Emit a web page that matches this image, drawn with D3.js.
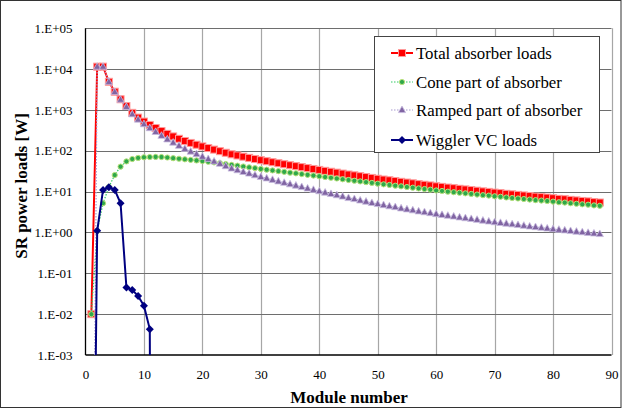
<!DOCTYPE html>
<html><head><meta charset="utf-8">
<script src="https://cdn.jsdelivr.net/npm/d3@7"></script>
<style>body{margin:0;background:#fff}svg{display:block}text{font-family:"Liberation Serif","Times New Roman",serif;fill:#000}</style>
</head><body>
<script>
// Module numbers 1..88
const modules = d3.range(1, 89);
const totalLoads = [0.01,11500,11500,4900,2800,1830,1250,850,650,520,430,362,305,260,225,197,174,156,141,128,117,107,
97.9,89.6,82.2,76.9,71.8,67.2,63.0,59.0,55.7,52.6,49.7,47.0,44.4,42.2,39.9,37.8,35.9,34.1,32.3,30.7,29.2,27.7,26.3,25.1,23.9,22.8,21.7,20.7,
19.8,19.0,18.2,17.4,16.7,16.0,15.3,14.75,14.19,13.53,13.1,12.58,12.17,11.75,11.35,10.95,10.55,10.16,9.87,9.49,
9.22,8.85,8.59,8.33,8.07,7.81,7.56,7.36,7.16,6.91,6.67,6.53,6.29,6.1,5.92,5.78,5.55,5.42];
const coneLoads = [0.01,1.1,5.2,13,25.5,41,55,63,67,69.5,70.5,71,70.5,68.5,66,64,62,60,58,56,54,52,
49.7,47.4,45.3,43.3,41.3,39.4,37.7,36.0,34.5,33.1,31.8,30.5,29.2,28.1,26.9,25.8,24.8,23.8,22.8,21.9,21.0,20.1,19.3,18.5,17.8,17.1,16.4,15.7,
15.1,14.6,14.0,13.5,13.0,12.5,12.0,11.6,11.2,10.7,10.4,10.0,9.7,9.4,9.1,8.8,8.5,8.2,8.0,7.7,
7.5,7.2,7.0,6.8,6.6,6.4,6.2,6.05,5.9,5.7,5.5,5.4,5.2,5.05,4.9,4.8,4.6,4.5];
const rampLoads = [1e-13,11500,11500,4890,2775,1790,1195,787,583,450,360,291,234,191,159,133,112,96,83,72,63,55,
48.2,42.2,36.9,33.6,30.5,27.8,25.3,23.0,21.2,19.5,17.9,16.5,15.2,14.1,13.0,12.0,11.1,10.3,9.5,8.8,8.2,7.6,7.0,6.6,6.1,5.7,5.3,5.0,
4.7,4.4,4.2,3.9,3.7,3.5,3.3,3.15,2.99,2.83,2.70,2.58,2.47,2.35,2.25,2.15,2.05,1.96,1.87,1.79,
1.72,1.65,1.59,1.53,1.47,1.41,1.36,1.31,1.26,1.21,1.17,1.13,1.09,1.05,1.02,0.98,0.95,0.92];
const wigglerModules = [1,2,3,4,5,6,7,8,9,10,11,12];
const wigglerLoads = [1e-13,1.1,11,12.8,11,5.2,0.045,0.039,0.028,0.016,0.0043,1e-40];
const xTicks = [0,10,20,30,40,50,60,70,80,90];
const yTicks = [1e-3,1e-2,1e-1,1e0,1e1,1e2,1e3,1e4,1e5];
const yTickLabels = ["1.E-03","1.E-02","1.E-01","1.E+00","1.E+01","1.E+02","1.E+03","1.E+04","1.E+05"];
const seriesNames = ["Total absorber loads","Cone part of absorber","Ramped part of absorber","Wiggler VC loads"];

const W = 622, H = 409;
const L = 85.5, R = 611.5, T = 28.3, B = 355;
const svg = d3.select("body").append("svg").attr("width", W).attr("height", H);
svg.append("rect").attr("x",0.5).attr("y",0.5).attr("width",W-1.5).attr("height",H-2).attr("fill","#fff").attr("stroke","#333").attr("stroke-width",1);

const x = d3.scaleLinear().domain([0,90]).range([L,R]);
const y = d3.scaleLog().domain([1e-3,1e5]).range([B,T]);

// grid
const g = svg.append("g");
g.selectAll("line.v").data(xTicks.slice(1)).join("line")
  .attr("x1",d=>Math.round(x(d))+0.5).attr("x2",d=>Math.round(x(d))+0.5)
  .attr("y1",T).attr("y2",B).attr("stroke","#a6a6a6").attr("stroke-width",1.2);
g.selectAll("line.h").data(yTicks.slice(1)).join("line")
  .attr("x1",L).attr("x2",R)
  .attr("y1",d=>Math.round(y(d))+0.5).attr("y2",d=>Math.round(y(d))+0.5)
  .attr("stroke","#6e6e6e").attr("stroke-width",1.2);
// axes lines
svg.append("line").attr("x1",L).attr("x2",L).attr("y1",T).attr("y2",B).attr("stroke","#000").attr("stroke-width",1.3);
svg.append("line").attr("x1",L).attr("x2",R).attr("y1",B).attr("y2",B).attr("stroke","#000").attr("stroke-width",1.3);

// tick labels
const yAxis = d3.axisLeft(y).tickValues(yTicks).tickSize(0).tickPadding(13)
  .tickFormat((d,i)=>yTickLabels[i]);
const ya = svg.append("g").attr("transform",`translate(${L},0)`).call(yAxis);
ya.select(".domain").remove();
ya.selectAll("text").attr("font-size",13).style("font-family",'"Liberation Serif","Times New Roman",serif');
const xAxis = d3.axisBottom(x).tickValues(xTicks).tickSize(0).tickPadding(15);
const xa = svg.append("g").attr("transform",`translate(0,${B})`).call(xAxis);
xa.select(".domain").remove();
xa.selectAll("text").attr("font-size",13).style("font-family",'"Liberation Serif","Times New Roman",serif');

// titles
svg.append("text").attr("x",349).attr("y",403).attr("text-anchor","middle")
  .attr("font-size",17).attr("font-weight","bold").text("Module number");
svg.append("text").attr("transform","translate(27,186) rotate(-90)").attr("text-anchor","middle")
  .attr("font-size",17).attr("font-weight","bold").text("SR power loads [W]");

// clip
svg.append("clipPath").attr("id","clip").append("rect").attr("x",L).attr("y",T).attr("width",R-L).attr("height",B-T);
const plot = svg.append("g").attr("clip-path","url(#clip)");

const line = d3.line().x(d=>x(d[0])).y(d=>y(d[1]));
const styles = [
  {color:"#ff0000", width:2, dash:null, marker:"square"},
  {color:"#33cc66", width:1.2, dash:"1.5,1.5", marker:"circle"},
  {color:"#a899d0", width:1.2, dash:"1.5,1.5", marker:"triangle"},
  {color:"#000080", width:2, dash:null, marker:"diamond"}
];
const seriesData = [
  modules.map((m,i)=>[m,totalLoads[i]]),
  modules.map((m,i)=>[m,coneLoads[i]]),
  modules.map((m,i)=>[m,rampLoads[i]]),
  wigglerModules.map((m,i)=>[m,wigglerLoads[i]])
];
function drawMarker(sel, type){
  if(type==="square"){
    sel.append("rect").attr("x",-3.5).attr("y",-3.5).attr("width",7).attr("height",7)
      .attr("fill","#ff0000").attr("stroke","#ff9a9a").attr("stroke-width",1);
  } else if(type==="circle"){
    sel.append("circle").attr("r",2.6).attr("fill","#2ea84a").attr("stroke","#b8e07a").attr("stroke-width",1);
  } else if(type==="triangle"){
    sel.append("path").attr("d","M0,-4L3.6,2.6L-3.6,2.6Z").attr("fill","#8064a2").attr("stroke","#c8bce0").attr("stroke-width",0.8);
  } else {
    sel.append("path").attr("d","M0,-4L4,0L0,4L-4,0Z").attr("fill","#000080");
  }
}
seriesData.forEach((data,si)=>{
  const st = styles[si];
  const p = plot.append("path").datum(data).attr("d",line).attr("fill","none")
    .attr("stroke",st.color).attr("stroke-width",st.width).attr("stroke-linejoin","round");
  if(st.dash) p.attr("stroke-dasharray",st.dash);
  data.filter(d=>d[1]>=1e-3 && d[1]<=1e5).forEach(d=>{
    const mg = plot.append("g").attr("transform",`translate(${x(d[0])},${y(d[1])})`);
    drawMarker(mg, st.marker);
  });
});

// legend
const lg = svg.append("g");
lg.append("rect").attr("x",374.5).attr("y",36.5).attr("width",225).attr("height",116)
  .attr("fill","#fff").attr("stroke","#444").attr("stroke-width",1);
const legY = [53,82,110,140];
seriesNames.forEach((name,i)=>{
  const st = styles[i];
  const l = lg.append("line").attr("x1",391).attr("x2",413).attr("y1",legY[i]).attr("y2",legY[i])
    .attr("stroke",st.color).attr("stroke-width",st.width);
  if(st.dash) l.attr("stroke-dasharray",st.dash);
  const mg = lg.append("g").attr("transform",`translate(402,${legY[i]})`);
  drawMarker(mg, st.marker);
  lg.append("text").attr("x",416).attr("y",legY[i]+5.5).attr("font-size",16.8).text(name);
});
</script>
</body></html>
